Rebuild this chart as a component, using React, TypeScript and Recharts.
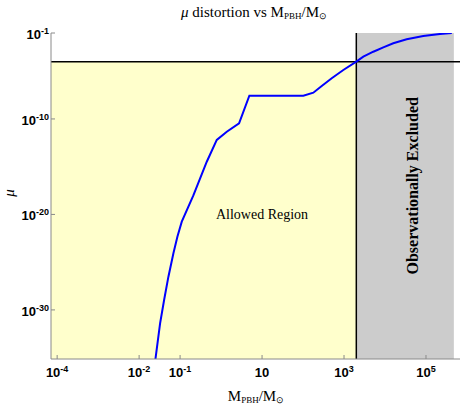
import { ComposedChart, Line, XAxis, YAxis, ReferenceArea, ReferenceLine, ReferenceDot, Label } from 'recharts';

// log10(M_PBH / M_sun) and log10(mu)
const log10Mass = [
    -1.62, -1.488, -1.39, -1.285, -1.163, -1.066, -0.959, -0.676, -0.349, -0.105, 0.139, 0.439, 0.69,
    2.007, 2.251, 2.456, 2.7, 2.983, 3.3, 3.471, 3.715, 3.959, 4.202, 4.529, 4.934, 5.341, 5.63,
];
const log10Mu = [
    -35.76, -31.4, -28.96, -26.52, -24.07, -22.33, -20.76, -18.01, -14.48, -12.2, -11.34, -10.46, -7.57,
    -7.57, -7.25, -6.55, -5.74, -4.87, -4.0, -3.48, -2.96, -2.5, -2.08, -1.66, -1.31, -1.1, -1.0,
];

const xTicks = [-4, -2, -1, 1, 3, 5];
const yTicks = [-30, -20, -10, -1];

const xDomain = [-4.15, 5.83];
const yDomain = [-35.14, -1];

// limits drawn on the plot
const muLimit = -4; // 10^-4
const massLimit = 3.3; // ~2000 M_sun
const excludedEnd = 5.68;

const data = log10Mass.map((m, i) => ({ x: m, y: log10Mu[i] }));

const frame = '#8a8a8a';
const sans = '"Liberation Sans", Arial, sans-serif';
const serif = '"Liberation Serif", "Times New Roman", serif';

function pow10(e: number) {
    if (e === 1) return <tspan>10</tspan>;
    return (
        <>
            <tspan>10</tspan>
            <tspan fontSize={9} dy={-5}>{e}</tspan>
        </>
    );
}

const BottomTick = ({ x, y, payload }: any) => (
    <g>
        <line x1={x} x2={x} y1={y} y2={y - 4} stroke={frame} />
        <text x={x} y={y + 18} textAnchor="middle" fontFamily={sans} fontWeight="bold" fontSize={13} fill="#000">
            {pow10(payload.value)}
        </text>
    </g>
);

const TopTick = ({ x, y }: any) => <line x1={x} x2={x} y1={y} y2={y + 4} stroke={frame} />;

const LeftTick = ({ x, y, payload }: any) => (
    <g>
        <line x1={x} x2={x + 4} y1={y} y2={y} stroke={frame} />
        <text x={x - 2} y={y + 6} textAnchor="end" fontFamily={sans} fontWeight="bold" fontSize={13} fill="#000">
            {pow10(payload.value)}
        </text>
    </g>
);

const RightTick = ({ x, y }: any) => <line x1={x} x2={x - 4} y1={y} y2={y} stroke={frame} />;

const massLabel = (x: number, y: number) => (
    <text x={x} y={y} textAnchor="middle" fontFamily={serif} fontSize={15} fill="#000">
        <tspan>M</tspan>
        <tspan fontSize={9} dy={2}>PBH</tspan>
        <tspan dy={-2}>/M</tspan>
        <tspan fontSize={9} dy={2}>⊙</tspan>
    </text>
);

export default function App() {
    return (
        <div style={{ position: 'absolute', left: 0, top: 0, width: 463, height: 409, background: '#fff' }}>
            <svg width={463} height={30} style={{ position: 'absolute', left: 0, top: 0 }}>
                <text x={254} y={17} textAnchor="middle" fontFamily={serif} fontSize={15} fill="#000">
                    <tspan fontStyle="italic">μ</tspan>
                    <tspan> distortion vs M</tspan>
                    <tspan fontSize={9} dy={2}>PBH</tspan>
                    <tspan dy={-2}>/M</tspan>
                    <tspan fontSize={9} dy={2}>⊙</tspan>
                </text>
            </svg>
            <ComposedChart
                width={463}
                height={409}
                data={data}
                margin={{ top: 33, right: 3, bottom: 0, left: 0 }}
                style={{ position: 'absolute', left: 0, top: 0 }}
            >
                <XAxis
                    type="number"
                    dataKey="x"
                    domain={xDomain}
                    ticks={xTicks}
                    allowDataOverflow
                    height={50}
                    tickSize={0}
                    tickMargin={0}
                    tickLine={false}
                    axisLine={{ stroke: frame }}
                    tick={<BottomTick />}
                    label={{ content: () => massLabel(256, 401) }}
                />
                <XAxis
                    xAxisId="top"
                    orientation="top"
                    type="number"
                    domain={xDomain}
                    ticks={xTicks}
                    allowDataOverflow
                    height={0}
                    tickSize={0}
                    tickMargin={0}
                    tickLine={false}
                    axisLine={{ stroke: frame }}
                    tick={<TopTick />}
                />
                <YAxis
                    type="number"
                    dataKey="y"
                    domain={yDomain}
                    ticks={yTicks}
                    allowDataOverflow
                    width={51}
                    tickSize={0}
                    tickMargin={0}
                    tickLine={false}
                    axisLine={{ stroke: frame }}
                    tick={<LeftTick />}
                    label={{ content: () => (
                        <text x={14} y={193} transform="rotate(-90 14 193)" textAnchor="middle" fontFamily={serif} fontStyle="italic" fontSize={15} fill="#000">μ</text>
                    ) }}
                />
                <YAxis
                    yAxisId="right"
                    orientation="right"
                    type="number"
                    domain={yDomain}
                    ticks={yTicks}
                    allowDataOverflow
                    width={0}
                    tickSize={0}
                    tickMargin={0}
                    tickLine={false}
                    axisLine={{ stroke: frame }}
                    tick={<RightTick />}
                />
                <ReferenceArea x1={xDomain[0]} x2={massLimit} y1={yDomain[0]} y2={muLimit} fill="#ffffcc" fillOpacity={1} stroke="none" />
                <ReferenceArea x1={massLimit} x2={excludedEnd} y1={yDomain[0]} y2={yDomain[1]} fill="#cccccc" fillOpacity={1} stroke="none" />
                <ReferenceLine y={muLimit} stroke="#000" strokeWidth={1.5} />
                <ReferenceLine x={massLimit} stroke="#000" strokeWidth={1.5} />
                <ReferenceDot x={1} y={-20} r={0} fill="none" stroke="none">
                    <Label value="Allowed Region" position="center" fontFamily={serif} fontSize={14} fill="#000" />
                </ReferenceDot>
                <ReferenceDot x={4.66} y={-17} r={0} fill="none" stroke="none">
                    <Label value="Observationally Excluded" position="center" angle={-90} fontFamily={serif} fontWeight="bold" fontSize={16} fill="#000" />
                </ReferenceDot>
                <Line
                    type="linear"
                    dataKey="y"
                    stroke="#0000ff"
                    strokeWidth={2}
                    dot={false}
                    isAnimationActive={false}
                />
            </ComposedChart>
        </div>
    );
}
